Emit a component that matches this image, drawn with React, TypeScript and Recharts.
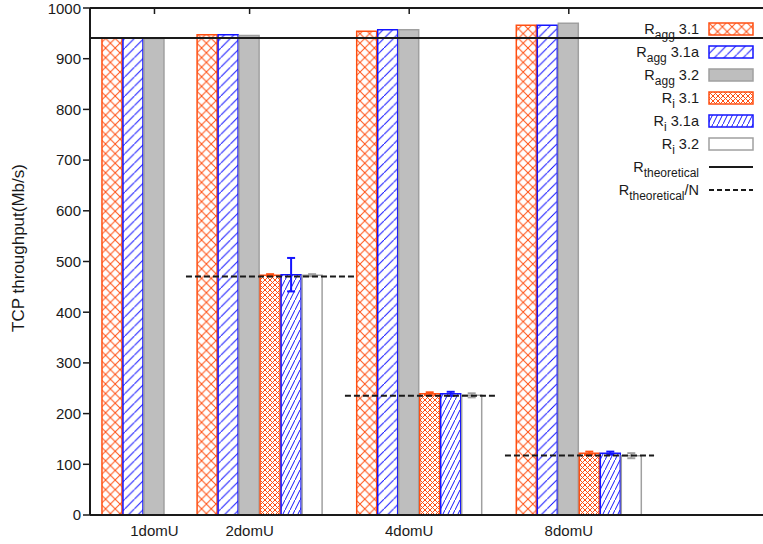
import React from "react";
import { BarChart, Bar, XAxis, YAxis, ErrorBar, ReferenceLine } from "recharts";

// gnuplot-style clustered histogram: aggregate vs per-domU TCP throughput.

const FONT = '"Liberation Sans", Arial, Helvetica, sans-serif';
const ORANGE = "#ff4f12";
const BLUE = "#1414ff";
const GRAY_FILL = "#bebebe";
const GRAY_LINE = "#a0a0a0";
const INK = "#1a1a1a";

// clusters (left edge of first bar, in bar-slot units)
const CATEGORIES = ["1domU", "2domU", "4domU", "8domU"];
const CLUSTER_START = [0.57, 5.1, 12.7, 20.3];

// throughput, Mb/s
const R_AGG_31 = [941, 947, 954, 966];
const R_AGG_31A = [941, 947, 957, 966];
const R_AGG_32 = [940, 946, 957, 970];
const R_I_31 = [null, 473, 239, 122];
const R_I_31A = [null, 474, 239, 122];
const R_I_32 = [null, 473, 236, 117];
const R_I_31_ERR = [null, 2, 3, 3];
const R_I_31A_ERR = [null, 33, 4, 3];
const R_I_32_ERR = [null, 2, 4, 5];

// theoretical limits
const R_THEO = 941;
const R_THEO_N = [null, 470.5, 235.3, 117.6];
const R_THEO_N_FROM = [null, 4.57, 12.14, 19.76];
const R_THEO_N_TO = [null, 12.62, 19.29, 26.86];

const Y_TICKS = [0, 100, 200, 300, 400, 500, 600, 700, 800, 900, 1000];
const X_TICKS = CLUSTER_START.map((s) => s + 2.5); // under the 3rd bar

const SERIES = [
  { key: "agg31", values: R_AGG_31, fill: "url(#pat-agg31)", stroke: ORANGE, name: ["R", "agg", " 3.1"] },
  { key: "agg31a", values: R_AGG_31A, fill: "url(#pat-agg31a)", stroke: BLUE, name: ["R", "agg", " 3.1a"] },
  { key: "agg32", values: R_AGG_32, fill: GRAY_FILL, stroke: GRAY_LINE, name: ["R", "agg", " 3.2"] },
  { key: "i31", values: R_I_31, errs: R_I_31_ERR, fill: "url(#pat-i31)", stroke: ORANGE, name: ["R", "i", " 3.1"] },
  { key: "i31a", values: R_I_31A, errs: R_I_31A_ERR, fill: "url(#pat-i31a)", stroke: BLUE, name: ["R", "i", " 3.1a"] },
  { key: "i32", values: R_I_32, errs: R_I_32_ERR, fill: "#ffffff", stroke: GRAY_LINE, name: ["R", "i", " 3.2"] },
];

const rows: any[] = [];
CATEGORIES.forEach((_, c) => {
  SERIES.forEach((s, i) => {
    const v = s.values[c];
    if (v == null) return;
    const row: any = { x: CLUSTER_START[c] + i + 0.5, [s.key]: v };
    if (s.errs && s.errs[c] != null) row[s.key + "Err"] = s.errs[c];
    rows.push(row);
  });
});

// hatch patterns live in their own zero-size svg, shared by chart and legend
function Patterns() {
  return (
    <svg width={0} height={0} style={{ position: "absolute", left: 0, top: 0 }}>
      <defs>
        <pattern id="pat-agg31" patternUnits="userSpaceOnUse" width="9.6" height="9.6">
          <rect width="9.6" height="9.6" fill="#fff" />
          <path d="M0,0 L9.6,9.6 M9.6,0 L0,9.6" stroke={ORANGE} strokeWidth="1" />
        </pattern>
        <pattern id="pat-agg31a" patternUnits="userSpaceOnUse" width="9.6" height="9.6">
          <rect width="9.6" height="9.6" fill="#fff" />
          <path d="M0,9.6 L9.6,0" stroke={BLUE} strokeWidth="1" />
        </pattern>
        <pattern id="pat-i31" patternUnits="userSpaceOnUse" width="5" height="5">
          <rect width="5" height="5" fill="#fff" />
          <path d="M0,0 L5,5 M5,0 L0,5" stroke={ORANGE} strokeWidth="1" />
        </pattern>
        <pattern id="pat-i31a" patternUnits="userSpaceOnUse" width="5" height="10">
          <rect width="5" height="10" fill="#fff" />
          <path d="M0,10 L5,0" stroke={BLUE} strokeWidth="1" />
        </pattern>
      </defs>
    </svg>
  );
}

function Swatch({ fill, stroke }: { fill: string; stroke: string }) {
  return (
    <svg width={46} height={14} style={{ display: "block" }}>
      <rect x={1} y={1} width={44} height={12} fill={fill} stroke={stroke} strokeWidth={1.5} />
    </svg>
  );
}

function LineSwatch({ dashed }: { dashed?: boolean }) {
  return (
    <svg width={46} height={14} style={{ display: "block" }}>
      <line x1={1} y1={7} x2={45} y2={7} stroke={INK} strokeWidth={2} strokeDasharray={dashed ? "5 3" : undefined} />
    </svg>
  );
}

function LegendLabel({ parts }: { parts: string[] }) {
  return (
    <span style={{ whiteSpace: "nowrap" }}>
      {parts[0]}
      <span style={{ fontSize: 12, position: "relative", top: 5 }}>{parts[1]}</span>
      {parts[2]}
    </span>
  );
}

function ChartLegend() {
  const row = { display: "flex", alignItems: "center", justifyContent: "flex-end", height: 23, gap: 9 } as const;
  return (
    <div style={{ position: "absolute", left: 580, top: 17, width: 174, fontFamily: FONT, fontSize: 14.5, color: INK }}>
      {SERIES.map((s) => (
        <div key={s.key} style={row}>
          <LegendLabel parts={s.name} />
          <Swatch fill={s.fill} stroke={s.stroke} />
        </div>
      ))}
      <div style={row}>
        <LegendLabel parts={["R", "theoretical", ""]} />
        <LineSwatch />
      </div>
      <div style={row}>
        <LegendLabel parts={["R", "theoretical", "/N"]} />
        <LineSwatch dashed />
      </div>
    </div>
  );
}

export default function App() {
  return (
    <div style={{ position: "absolute", left: 0, top: 0, width: 763, height: 544, overflow: "hidden", background: "#fff" }}>
      <Patterns />
      <BarChart
        width={783}
        height={544}
        data={rows}
        margin={{ top: 8, right: 0, bottom: 0, left: 0 }}
      >
        <XAxis
          dataKey="x"
          type="number"
          domain={[0, 33]}
          ticks={X_TICKS}
          tickFormatter={(_v: number, i: number) => CATEGORIES[i]}
          height={29}
          tickLine={false}
          tickSize={8}
          tickMargin={2}
          axisLine={{ stroke: INK, strokeWidth: 2 }}
          tick={{ fontSize: 15, fill: INK, fontFamily: FONT }}
          allowDataOverflow
        />
        {/* mirrored top axis: inward tick marks only */}
        <XAxis
          xAxisId="top"
          dataKey="x"
          type="number"
          orientation="top"
          domain={[0, 33]}
          ticks={X_TICKS}
          interval={0}
          tickFormatter={() => " "}
          height={1}
          mirror
          tickSize={6}
          tickLine={{ stroke: INK, strokeWidth: 1.5 }}
          tick={{ fontSize: 9, fill: "#fff" }}
          axisLine={{ stroke: INK, strokeWidth: 2 }}
          allowDataOverflow
        />
        <YAxis
          type="number"
          domain={[0, 1000]}
          ticks={Y_TICKS}
          width={90}
          tickSize={7}
          tickLine={{ stroke: INK, strokeWidth: 1.5 }}
          axisLine={{ stroke: INK, strokeWidth: 2 }}
          tick={{ fontSize: 15, fill: INK, fontFamily: FONT }}
        />
        {SERIES.map((s) => (
          <Bar
            key={s.key}
            dataKey={s.key}
            stackId="all"
            barSize={20}
            fill={s.fill}
            stroke={s.stroke}
            strokeWidth={1.5}
            isAnimationActive={false}
          >
            {s.errs && (
              <ErrorBar dataKey={s.key + "Err"} width={4} stroke={s.stroke} strokeWidth={2} direction="y" />
            )}
          </Bar>
        ))}
        <ReferenceLine y={R_THEO} stroke={INK} strokeWidth={2} />
        {R_THEO_N.map((v, c) =>
          v == null ? null : (
            <ReferenceLine
              key={c}
              segment={[
                { x: R_THEO_N_FROM[c], y: v },
                { x: R_THEO_N_TO[c], y: v },
              ]}
              stroke={INK}
              strokeWidth={2}
              strokeDasharray="6 3"
            />
          )
        )}
      </BarChart>
      <div
        style={{
          position: "absolute",
          left: 19,
          top: 248,
          transform: "translate(-50%, -50%) rotate(-90deg)",
          whiteSpace: "nowrap",
          fontFamily: FONT,
          fontSize: 17,
          color: INK,
        }}
      >
        TCP throughput(Mb/s)
      </div>
      <ChartLegend />
    </div>
  );
}
